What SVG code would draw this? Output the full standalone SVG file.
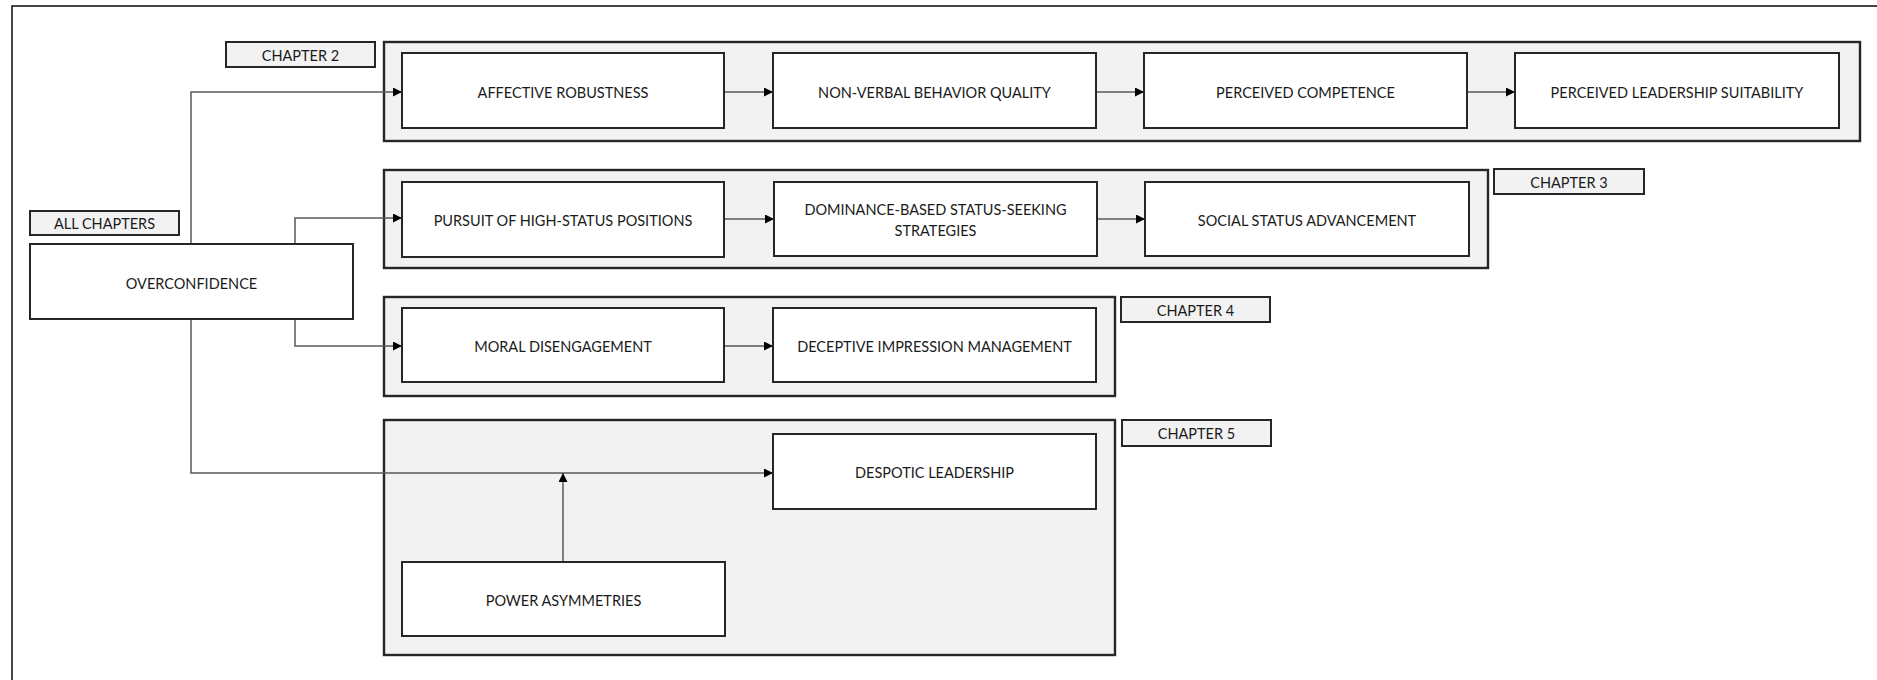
<svg xmlns="http://www.w3.org/2000/svg" width="1877" height="680" viewBox="0 0 1877 680">
<defs>
<style>
.frame{fill:none;stroke:#1a1a1a;stroke-width:1.6}
.grp{fill:#f2f2f2;stroke:#262626;stroke-width:2.4}
.lbl{fill:#f2f2f2;stroke:#262626;stroke-width:2}
.node{fill:#ffffff;stroke:#262626;stroke-width:2}
.t{font-family:Lato,"Liberation Sans",sans-serif;font-size:14.5px;fill:#1a1a1a;text-anchor:middle;dominant-baseline:central}
.c{fill:none;stroke:#595959;stroke-width:1.5}
</style>
<marker id="ah" viewBox="0 0 10 10" refX="10" refY="5" markerWidth="9" markerHeight="9" markerUnits="userSpaceOnUse" orient="auto">
<path d="M0,0 L10,5 L0,10 Z" fill="#000"/>
</marker>
</defs>
<rect width="1877" height="680" fill="#ffffff"/>
<rect class="frame" x="12" y="6" width="1890" height="700"/>

<g id="chapter2">
<rect class="grp" x="384" y="42" width="1476" height="99"/>
<rect class="lbl" x="226" y="42" width="149" height="25"/>
<text class="t" x="300.5" y="55">CHAPTER 2</text>
</g>
<g id="chapter3">
<rect class="grp" x="384" y="170" width="1104" height="98"/>
<rect class="lbl" x="1494" y="169" width="150" height="25"/>
<text class="t" x="1569" y="182">CHAPTER 3</text>
</g>
<g id="chapter4">
<rect class="grp" x="384" y="297" width="731" height="99"/>
<rect class="lbl" x="1121" y="297" width="149" height="25"/>
<text class="t" x="1195.5" y="310">CHAPTER 4</text>
</g>
<g id="chapter5">
<rect class="grp" x="384" y="420" width="731" height="235"/>
<rect class="lbl" x="1122" y="420" width="149" height="26"/>
<text class="t" x="1196.5" y="433">CHAPTER 5</text>
</g>
<g id="all-chapters">
<rect class="lbl" x="30" y="211" width="149" height="24"/>
<text class="t" x="104.5" y="223">ALL CHAPTERS</text>
</g>

<g id="connectors">
<path class="c" d="M191,244 V92 H402" marker-end="url(#ah)"/>
<path class="c" d="M295,244 V218 H402" marker-end="url(#ah)"/>
<path class="c" d="M295,319 V346 H402" marker-end="url(#ah)"/>
<path class="c" d="M191,319 V473 H773" marker-end="url(#ah)"/>
<path class="c" d="M563,562 V473" marker-end="url(#ah)"/>
<path class="c" d="M724,92 H773" marker-end="url(#ah)"/>
<path class="c" d="M1096,92 H1144" marker-end="url(#ah)"/>
<path class="c" d="M1467,92 H1515" marker-end="url(#ah)"/>
<path class="c" d="M724,219 H774" marker-end="url(#ah)"/>
<path class="c" d="M1097,219 H1145" marker-end="url(#ah)"/>
<path class="c" d="M724,346 H773" marker-end="url(#ah)"/>
</g>

<g id="overconfidence">
<rect class="node" x="30" y="244" width="323" height="75"/>
<text class="t" x="191.5" y="283">OVERCONFIDENCE</text>
</g>
<g id="affective-robustness">
<rect class="node" x="402" y="53" width="322" height="75"/>
<text class="t" x="563" y="92">AFFECTIVE ROBUSTNESS</text>
</g>
<g id="non-verbal">
<rect class="node" x="773" y="53" width="323" height="75"/>
<text class="t" x="934.5" y="92">NON-VERBAL BEHAVIOR QUALITY</text>
</g>
<g id="perceived-competence">
<rect class="node" x="1144" y="53" width="323" height="75"/>
<text class="t" x="1305.5" y="92">PERCEIVED COMPETENCE</text>
</g>
<g id="perceived-leadership">
<rect class="node" x="1515" y="53" width="324" height="75"/>
<text class="t" x="1677" y="92">PERCEIVED LEADERSHIP SUITABILITY</text>
</g>
<g id="pursuit">
<rect class="node" x="402" y="182" width="322" height="75"/>
<text class="t" x="563" y="220">PURSUIT OF HIGH-STATUS POSITIONS</text>
</g>
<g id="dominance">
<rect class="node" x="774" y="182" width="323" height="74"/>
<text class="t" x="935.5" y="209">DOMINANCE-BASED STATUS-SEEKING</text>
<text class="t" x="935.5" y="230">STRATEGIES</text>
</g>
<g id="social-status">
<rect class="node" x="1145" y="182" width="324" height="74"/>
<text class="t" x="1307" y="220">SOCIAL STATUS ADVANCEMENT</text>
</g>
<g id="moral">
<rect class="node" x="402" y="308" width="322" height="74"/>
<text class="t" x="563" y="346">MORAL DISENGAGEMENT</text>
</g>
<g id="deceptive">
<rect class="node" x="773" y="308" width="323" height="74"/>
<text class="t" x="934.5" y="346">DECEPTIVE IMPRESSION MANAGEMENT</text>
</g>
<g id="despotic">
<rect class="node" x="773" y="434" width="323" height="75"/>
<text class="t" x="934.5" y="472">DESPOTIC LEADERSHIP</text>
</g>
<g id="power">
<rect class="node" x="402" y="562" width="323" height="74"/>
<text class="t" x="563.5" y="600">POWER ASYMMETRIES</text>
</g>
</svg>
